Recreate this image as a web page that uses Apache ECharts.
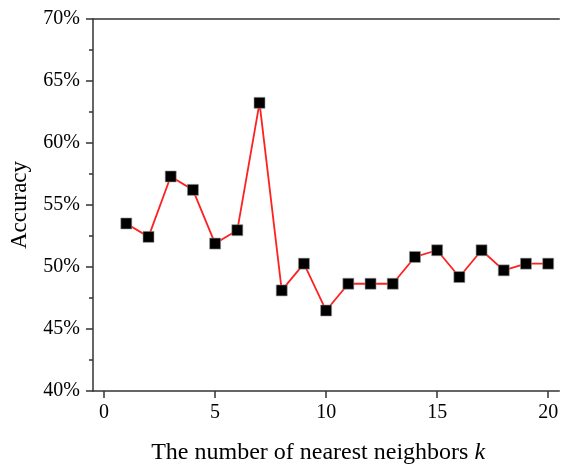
<!DOCTYPE html>
<html>
<head>
<meta charset="utf-8">
<script src="https://cdn.jsdelivr.net/npm/echarts@6/dist/echarts.min.js"></script>
<style>
html,body{margin:0;padding:0;background:#fff;}
#c{width:561px;height:470px;}
</style>
</head>
<body>
<div id="c"></div>
<script>
var kValues = [1,2,3,4,5,6,7,8,9,10,11,12,13,14,15,16,17,18,19,20];
var accuracy = [53.51,52.43,57.30,56.22,51.89,52.97,63.24,48.11,50.27,46.49,48.65,48.65,48.65,50.81,51.35,49.19,51.35,49.73,50.27,50.27];
var xTicks = [0,5,10,15,20];
var yTicks = [40,45,50,55,60,65,70];

var font = 'Liberation Serif';
var chart = echarts.init(document.getElementById('c'), null, {renderer:'canvas'});
var data = kValues.map(function(k,i){return [k, accuracy[i]];});
chart.setOption({
  animation:false,
  backgroundColor:'#fff',
  grid:{left:86, top:19, width:476, height:384},
  xAxis:[{
    type:'value', min:-0.5, max:20.5,
    name:'The number of nearest neighbors {i|k}', nameLocation:'middle', nameGap:50,
    nameTextStyle:{fontFamily:font, fontSize:24, color:'#000', padding:[0,16,0,0], rich:{i:{fontFamily:font, fontStyle:'italic', fontSize:24, color:'#000'}}},
    axisLine:{show:true, onZero:false, lineStyle:{color:'#333', width:1.5}},
    axisTick:{show:true, inside:false, length:7, customValues:xTicks, lineStyle:{color:'#333', width:1.5}},
    axisLabel:{customValues:xTicks, margin:12, fontFamily:font, fontSize:20, color:'#000'},
    splitLine:{show:false}
  },{
    type:'value', position:'top', min:-0.5, max:20.5,
    axisLine:{show:true, onZero:false, lineStyle:{color:'#333', width:1.5}},
    axisTick:{show:false}, axisLabel:{show:false}, splitLine:{show:false}
  }],
  yAxis:{
    type:'value', min:40, max:70, interval:5,
    name:'Accuracy', nameLocation:'middle', nameGap:62,
    nameTextStyle:{fontFamily:font, fontSize:23, color:'#000'},
    axisLine:{show:true, onZero:false, lineStyle:{color:'#333', width:1.5}},
    axisTick:{show:true, inside:false, length:7, lineStyle:{color:'#333', width:1.5}},
    minorTick:{show:true, splitNumber:2, length:4, lineStyle:{color:'#333', width:1.5}},
    axisLabel:{margin:13, fontFamily:font, fontSize:20, color:'#000', formatter:'{value}%'},
    splitLine:{show:false}
  },
  series:[{
    type:'line', data:data, xAxisIndex:0,
    symbol:'rect', symbolSize:11,
    lineStyle:{color:'#ff2020', width:1.8},
    itemStyle:{color:'#000', borderColor:'#999', borderWidth:0.6}
  }]
});
</script>
</body>
</html>
